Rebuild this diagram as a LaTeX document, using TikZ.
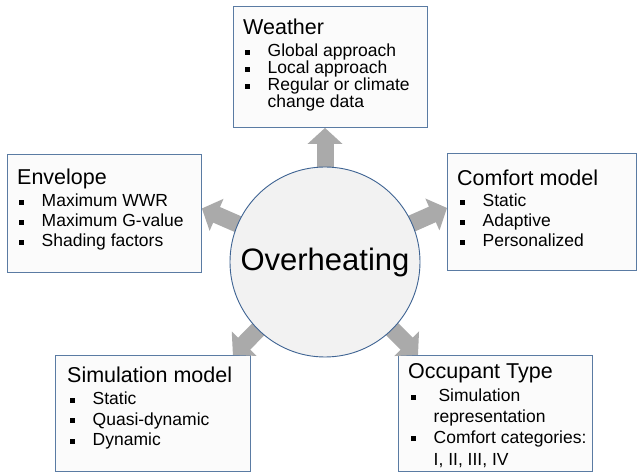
\documentclass[tikz,border=0pt]{standalone}
\usepackage{fontspec}
\setmainfont{Liberation Sans}
\usetikzlibrary{arrows.meta,calc}
\definecolor{boxline}{HTML}{5A7BA3}
\definecolor{circline}{HTML}{3F6493}
\definecolor{arrowgray}{HTML}{AAAAAA}
\definecolor{circfill}{HTML}{F2F2F2}
\definecolor{boxfill}{HTML}{FBFBFB}
\newcommand{\sqb}{\rule[2pt]{5pt}{5pt}}
\newcommand{\bl}{\makebox[22.5pt][l]{\sqb}}
\begin{document}
\begin{tikzpicture}[x=1pt,y=-1pt,
  box/.style={draw=boxline, line width=0.9pt, fill=boxfill, anchor=north west, inner sep=0pt},
  ttl/.style={anchor=base west, inner sep=0pt, font=\fontsize{21.5}{24}\selectfont},
  itm/.style={anchor=base west, inner sep=0pt, font=\fontsize{17.5}{20}\selectfont},
  bigarrow/.style={draw=arrowgray, line width=17pt, -{Triangle[width=34pt,length=16pt]}}]
\useasboundingbox (0,0) rectangle (638,473);
\fill[white] (0,0) rectangle (638,473);

% boxes
\node[box, minimum width=194pt, minimum height=121pt] (W) at (233,6) {};
\node[box, minimum width=194pt, minimum height=118pt] (E) at (7,154) {};
\node[box, minimum width=189pt, minimum height=117pt] (CM) at (447,153) {};
\node[box, minimum width=195pt, minimum height=116pt] (SM) at (55,355) {};
\node[box, minimum width=194pt, minimum height=116pt] (OT) at (398,355) {};

% arrows
\coordinate (cc) at (325,262);
\draw[bigarrow] (cc) -- (cc |- W.south);
\draw[bigarrow] (cc) -- ([yshift=5pt]E.east);
\draw[bigarrow] (cc) -- ([yshift=4pt]CM.west);
\draw[bigarrow] (cc) -- ([xshift=-18pt]SM.north east);
\draw[bigarrow] (cc) -- ([xshift=20pt]OT.north west);

% centre
\node[circle, draw=circline, fill=circfill, line width=0.9pt, minimum size=190pt,
      inner sep=0pt, font=\fontsize{31}{36}\selectfont] (C) at (cc) {\raisebox{-3pt}{Overheating}};

% Weather
\node[ttl] (Wt) at (243,35) {Weather};
\node[itm] (W1) at (245,57) {\bl Global approach};
\node[itm] (W2) at (245,74) {\bl Local approach};
\node[itm] (W3) at (245,91) {\bl Regular or climate};
\node[itm] (W4) at (267.5,108) {change data};

% Envelope
\node[ttl] (Et) at (17,185) {Envelope};
\node[itm] (E1) at (19,207) {\bl Maximum WWR};
\node[itm] (E2) at (19,227) {\bl Maximum G-value};
\node[itm] (E3) at (19,247) {\bl Shading factors};

% Comfort model
\node[ttl] (CMt) at (457,186) {Comfort model};
\node[itm] (CM1) at (460,207) {\bl Static};
\node[itm] (CM2) at (460,227) {\bl Adaptive};
\node[itm] (CM3) at (460,247) {\bl Personalized};

% Simulation model
\node[ttl] (SMt) at (67,382) {Simulation model};
\node[itm] (SM1) at (70,405) {\bl Static};
\node[itm] (SM2) at (70,425) {\bl Quasi-dynamic};
\node[itm] (SM3) at (70,446) {\bl Dynamic};

% Occupant Type
\node[ttl] (OTt) at (408,378) {Occupant Type};
\node[itm] (OT1) at (411,402) {\bl\ Simulation};
\node[itm] (OT2) at (433.5,422) {representation};
\node[itm] (OT3) at (411,443) {\bl Comfort categories:};
\node[itm] (OT4) at (433.5,465) {I, II, III, IV};
\end{tikzpicture}
\end{document}
